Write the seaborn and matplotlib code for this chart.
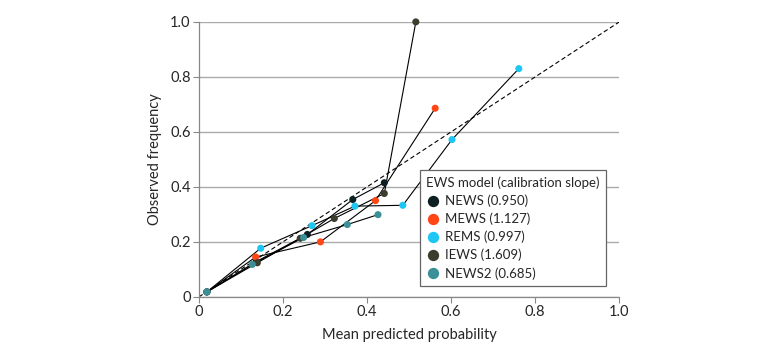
import pandas as pd
import matplotlib.pyplot as plt
import seaborn as sns

# calibration points
news_x = [0.019, 0.136, 0.258, 0.366, 0.441]
news_y = [0.018, 0.128, 0.227, 0.354, 0.415]
mews_x = [0.019, 0.135, 0.289, 0.420, 0.562]
mews_y = [0.018, 0.145, 0.200, 0.350, 0.686]
rems_x = [0.019, 0.147, 0.269, 0.371, 0.485, 0.602, 0.761]
rems_y = [0.018, 0.177, 0.259, 0.330, 0.333, 0.572, 0.830]
iews_x = [0.019, 0.139, 0.241, 0.322, 0.441, 0.516]
iews_y = [0.018, 0.124, 0.213, 0.285, 0.376, 1.000]
news2_x = [0.019, 0.127, 0.249, 0.353, 0.426]
news2_y = [0.018, 0.118, 0.216, 0.263, 0.299]

models = ['NEWS (0.950)', 'MEWS (1.127)', 'REMS (0.997)', 'IEWS (1.609)', 'NEWS2 (0.685)']
colors = ['#0c1f22', '#ff4614', '#1ec6f4', '#3c3d2c', '#3a9096']

xs = [news_x, mews_x, rems_x, iews_x, news2_x]
ys = [news_y, mews_y, rems_y, iews_y, news2_y]
rows = []
for m, xx, yy in zip(models, xs, ys):
    for a, b in zip(xx, yy):
        rows.append((m, a, b))
df = pd.DataFrame(rows, columns=['model', 'pred', 'obs'])

sns.set_style('white')
plt.rcParams['font.family'] = ['Lato', 'DejaVu Sans']

fig = plt.figure(figsize=(7.8, 3.53), dpi=100)
ax = fig.add_axes([0.255, 0.159, 0.539, 0.779])

ax.plot([0, 1], [0, 1], ls='--', color='black', lw=0.8, dashes=(4, 2.5), zorder=2)
sns.lineplot(data=df, x='pred', y='obs', units='model', estimator=None,
             color='black', lw=0.8, ax=ax, zorder=3)
sns.scatterplot(data=df, x='pred', y='obs', hue='model', hue_order=models,
                palette=colors, s=26, edgecolor='none', ax=ax, zorder=4,
                clip_on=False)

ax.set_xlim(0, 1)
ax.set_ylim(0, 1)
ax.set_xticks([0, 0.2, 0.4, 0.6, 0.8, 1.0])
ax.set_xticklabels(['0', '0.2', '0.4', '0.6', '0.8', '1.0'])
ax.set_yticks([0, 0.2, 0.4, 0.6, 0.8, 1.0])
ax.set_yticklabels(['0', '0.2', '0.4', '0.6', '0.8', '1.0'])
ax.yaxis.grid(True, color='#aaaaaa', lw=1)
ax.set_axisbelow(True)
ax.tick_params(axis='both', direction='out', length=4, width=0.8,
               color='#888888', labelsize=10.5, pad=2, left=True, bottom=True)
for s in ['top', 'right']:
    ax.spines[s].set_visible(False)
for s in ['left', 'bottom']:
    ax.spines[s].set_color('#888888')
    ax.spines[s].set_linewidth(0.9)

ax.set_xlabel('Mean predicted probability', fontsize=10.5, labelpad=6)
ax.set_ylabel('Observed frequency', fontsize=10.5, labelpad=6)

leg = ax.legend(title='EWS model (calibration slope)', loc='lower right',
                bbox_to_anchor=(0.985, 0.015), fontsize=9.5, title_fontsize=9.5,
                fancybox=False, edgecolor='#666666', framealpha=1,
                handletextpad=0.4, borderpad=0.5, labelspacing=0.42,
                handlelength=1.0, markerscale=1.6)
leg._legend_box.align = 'left'
leg.get_frame().set_linewidth(0.9)

fig.savefig('out.png', dpi=100)
